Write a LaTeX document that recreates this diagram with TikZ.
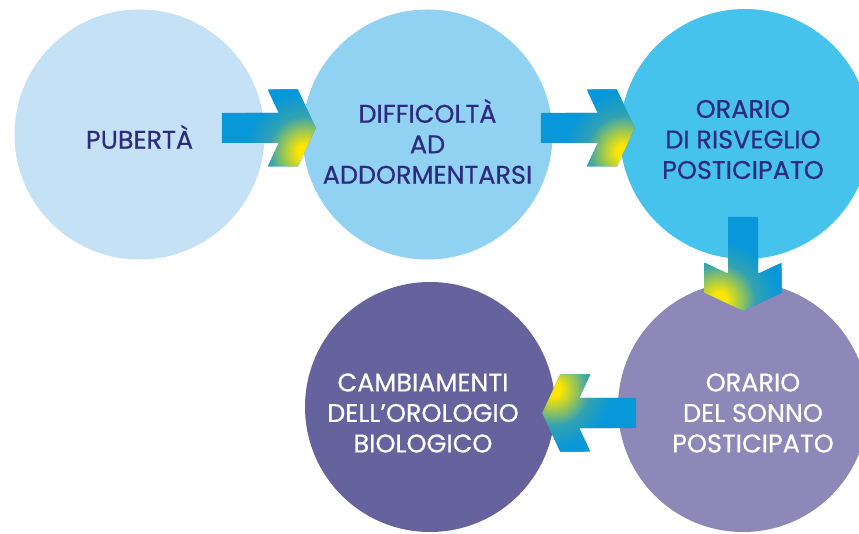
\documentclass[tikz,border=0pt]{standalone}
\usepackage{fontspec}
\setmainfont{Poppins}[FakeBold=0.6]
\usetikzlibrary{calc}

\definecolor{pubblue}{HTML}{C5E1F6}
\definecolor{diffblue}{HTML}{91D2F2}
\definecolor{risvblue}{HTML}{45C3EC}
\definecolor{sonnolilac}{HTML}{8D88B8}
\definecolor{orolpurple}{HTML}{66629D}
\definecolor{inkblue}{HTML}{2E2A7E}
\definecolor{arrowblue}{HTML}{0897D8}
\definecolor{glowyellow}{HTML}{FFE600}
\definecolor{glowgreen}{HTML}{A9CB48}
\definecolor{glowteal}{HTML}{32A2B2}

\pgfdeclareradialshading{tipglow}{\pgfpoint{0bp}{0bp}}{color(0bp)=(glowyellow); color(2.5bp)=(glowyellow); color(7bp)=(glowgreen); color(13bp)=(glowteal); color(21bp)=(arrowblue); color(50bp)=(arrowblue)}

\begin{document}
\begin{tikzpicture}[x=1pt,y=1pt,
	circ/.style={circle, minimum size=250pt, inner sep=0pt},
	lbl/.style={align=center, font=\fontsize{25.5}{30.5}\selectfont},
	flowarrow/.pic={
		\begin{scope}
			\clip (0,0) -- (-18,38.5) -- (-48,38.5) -- (-37,15) -- (-94,15) -- (-94,-15)
				-- (-37,-15) -- (-48,-38.5) -- (-18,-38.5) -- cycle;
			\fill[arrowblue] (-96,-40) rectangle (2,40);
			\shade[shading=tipglow] (-11,-24) circle (70);
		\end{scope}
	}]
	\useasboundingbox (0,0) rectangle (859,533);
	\fill[white] (0,0) rectangle (859,533);
	\clip (0,0) rectangle (859,533);

	% the five stages
	\node[circ, fill=pubblue] (pub) at (139.5,398.5) {};
	\node[circ, fill=diffblue] (diff) at (427.5,398.5) {};
	\node[circ, fill=risvblue] (risv) at (745,399) {};
	\node[circ, fill=sonnolilac] (sonno) at (743,126) {};
	\node[circ, fill=orolpurple] (orol) at (430,126) {};

	\node[lbl, text=inkblue] (pubtxt) at ($(pub)+(0,-2.5)$) {PUBERTÀ};
	\node[lbl, text=inkblue] (difftxt) at ($(diff)+(0,-7)$) {DIFFICOLTÀ\\AD\\ADDORMENTARSI};
	\node[lbl, text=inkblue] (risvtxt) at ($(risv)+(-2,-5.5)$) {ORARIO\\DI RISVEGLIO\\POSTICIPATO};
	\node[lbl, text=white] (sonnotxt) at ($(sonno)+(10,-6)$) {ORARIO\\DEL SONNO\\POSTICIPATO};
	\node[lbl, text=white] (oroltxt) at ($(orol)+(-7,-6)$) {CAMBIAMENTI\\DELL’OROLOGIO\\BIOLOGICO};

	% arrows
	\pic at ($(diff.west)+(13.5,6.5)$) {flowarrow};
	\pic at ($(risv.west)+(15,6)$) {flowarrow};
	\pic[rotate=-90] at ($(sonno.north)+(0,-29)$) {flowarrow};
	\pic[rotate=180] at ($(orol.east)+(-13,-6)$) {flowarrow};
\end{tikzpicture}
\end{document}
